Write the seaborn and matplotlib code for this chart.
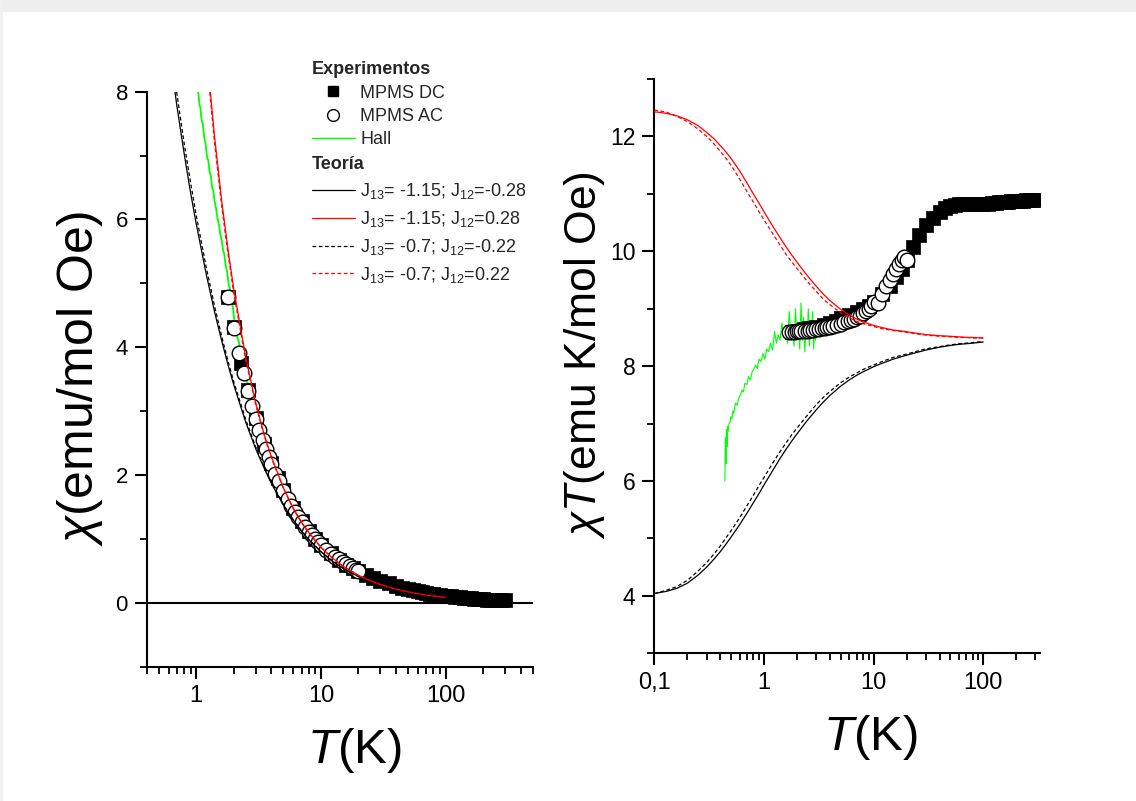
import numpy as np
import pandas as pd
import matplotlib
matplotlib.use("Agg")
import matplotlib.pyplot as plt
from matplotlib.lines import Line2D
from matplotlib.patches import Rectangle
from matplotlib.ticker import LogLocator, NullFormatter, FixedLocator
import seaborn as sns

# ---------------- data: right panel (chi*T vs T) ----------------
theory_T = [0.1, 0.13, 0.16, 0.2, 0.25, 0.3, 0.35, 0.4, 0.45, 0.5, 0.6, 0.7, 0.8, 0.9,
            1.0, 1.2, 1.4, 1.6, 1.8, 2.0, 2.5, 3.0, 3.5, 4.0, 5.0, 6.0, 7.0, 8.0, 10,
            12, 15, 20, 25, 30, 40, 50, 60, 70, 80, 100]
chiT_red_solid = [12.43, 12.40, 12.36, 12.29, 12.19, 12.07, 11.96, 11.84, 11.73, 11.62,
                  11.40, 11.19, 11.00, 10.84, 10.69, 10.44, 10.24, 10.07, 9.93, 9.81,
                  9.57, 9.39, 9.25, 9.14, 8.99, 8.89, 8.82, 8.77, 8.71, 8.67, 8.63,
                  8.60, 8.57, 8.55, 8.53, 8.52, 8.51, 8.50, 8.50, 8.49]
chiT_red_dash = [12.46, 12.42, 12.35, 12.26, 12.13, 12.00, 11.87, 11.74, 11.62, 11.50,
                 11.26, 11.04, 10.86, 10.69, 10.55, 10.31, 10.11, 9.94, 9.81, 9.70,
                 9.47, 9.30, 9.16, 9.07, 8.93, 8.84, 8.78, 8.74, 8.69, 8.65, 8.62,
                 8.59, 8.56, 8.54, 8.52, 8.51, 8.50, 8.50, 8.49, 8.49]
chiT_black_solid = [4.04, 4.08, 4.13, 4.22, 4.36, 4.50, 4.64, 4.77, 4.90, 5.02, 5.24,
                    5.44, 5.62, 5.78, 5.93, 6.18, 6.39, 6.56, 6.70, 6.82, 7.06, 7.24,
                    7.38, 7.49, 7.65, 7.76, 7.84, 7.90, 7.99, 8.05, 8.12, 8.19, 8.24,
                    8.28, 8.33, 8.36, 8.38, 8.39, 8.40, 8.42]
chiT_black_dash = [4.04, 4.10, 4.16, 4.27, 4.43, 4.58, 4.73, 4.87, 5.01, 5.13, 5.36,
                   5.57, 5.75, 5.92, 6.06, 6.31, 6.51, 6.67, 6.81, 6.92, 7.15, 7.33,
                   7.46, 7.56, 7.71, 7.81, 7.88, 7.94, 8.02, 8.08, 8.15, 8.21, 8.26,
                   8.30, 8.34, 8.37, 8.39, 8.40, 8.41, 8.43]

dc_T = [1.8, 2.0, 2.3, 2.6, 3.0, 3.5, 4.0, 4.5, 5, 6, 7, 8, 9, 10, 12, 14, 16, 18, 20,
        23, 26, 30, 35, 40, 45, 50, 55, 60, 65, 70, 75, 80, 90, 100, 110, 120, 130,
        140, 150, 160, 170, 180, 190, 200, 215, 230, 245, 260, 280, 300]
dc_chiT = [8.60, 8.62, 8.64, 8.66, 8.68, 8.71, 8.75, 8.79, 8.83, 8.89, 8.94, 8.99, 9.05,
           9.12, 9.26, 9.40, 9.55, 9.70, 9.85, 10.07, 10.28, 10.45, 10.58, 10.68, 10.75,
           10.79, 10.81, 10.82, 10.82, 10.82, 10.82, 10.82, 10.82, 10.83, 10.83, 10.84,
           10.84, 10.85, 10.85, 10.86, 10.86, 10.87, 10.87, 10.88, 10.88, 10.88, 10.89,
           10.89, 10.89, 10.90]

ac_T = [1.7, 1.8, 1.9, 2.0, 2.1, 2.2, 2.35, 2.5, 2.65, 2.8, 3.0, 3.2, 3.4, 3.6, 3.8, 4.0,
        4.3, 4.6, 5.0, 5.4, 5.8, 6.2, 6.6, 7.0, 7.5, 8.0, 8.5, 9.0, 9.5, 10, 11, 12, 13,
        14, 15, 16, 17, 18, 19, 20]
ac_chiT = [8.60, 8.60, 8.60, 8.61, 8.61, 8.61, 8.62, 8.62, 8.63, 8.63, 8.64, 8.65, 8.66,
           8.67, 8.68, 8.69, 8.70, 8.72, 8.74, 8.76, 8.78, 8.80, 8.82, 8.85, 8.88, 8.92,
           8.96, 9.00, 9.05, 9.12, 9.10, 9.25, 9.40, 9.50, 9.60, 9.70, 9.78, 9.85, 9.90,
           9.85]

hall_T = [0.440, 0.445, 0.450, 0.455, 0.460, 0.465, 0.47, 0.48, 0.49, 0.50, 0.51, 0.52,
          0.53, 0.55, 0.57, 0.59, 0.61, 0.63, 0.65, 0.67, 0.70, 0.72, 0.75, 0.78, 0.81,
          0.84, 0.87, 0.90, 0.94, 0.98, 1.02, 1.06, 1.10, 1.15, 1.20, 1.25, 1.30, 1.35,
          1.40, 1.46, 1.52, 1.58, 1.64, 1.70, 1.76, 1.82, 1.88, 1.94, 2.00, 2.06, 2.12,
          2.18, 2.24, 2.30, 2.36, 2.42, 2.48, 2.54, 2.60, 2.66, 2.72, 2.78, 2.84, 2.90,
          2.96, 3.00]
hall_chiT = [6.0, 6.75, 6.3, 6.9, 6.6, 6.95, 6.85, 7.0, 7.02, 7.12, 7.08, 7.22, 7.18,
             7.36, 7.32, 7.45, 7.5, 7.58, 7.55, 7.7, 7.68, 7.82, 7.76, 7.9, 7.95, 8.02,
             7.96, 8.12, 8.08, 8.22, 8.12, 8.3, 8.25, 8.4, 8.28, 8.6, 8.4, 8.55, 8.45,
             8.75, 8.5, 8.62, 8.4, 8.95, 8.55, 8.7, 8.35, 9.0, 8.5, 8.75, 8.3, 9.1, 8.45,
             8.85, 8.25, 8.7, 8.55, 9.0, 8.35, 8.8, 8.5, 8.95, 8.3, 8.65, 8.45, 8.75]

# ---------------- data: left panel (chi vs T) ----------------
theory_T_left = [0.5, 0.6, 0.7, 0.8, 0.9, 1.0, 1.2, 1.4, 1.6, 1.8, 2.0, 2.5, 3, 3.5, 4,
                 5, 6, 7, 8, 10, 12, 15, 20, 25, 30, 40, 50, 60, 70, 80, 100]
chi_red_solid = [23.24, 19.0, 15.99, 13.75, 12.04, 10.69, 8.70, 7.31, 6.29, 5.52, 4.91,
                 3.83, 3.13, 2.64, 2.29, 1.80, 1.48, 1.26, 1.10, 0.871, 0.723, 0.575,
                 0.43, 0.343, 0.285, 0.213, 0.17, 0.142, 0.121, 0.106, 0.0849]
chi_red_dash = [23.0, 18.77, 15.77, 13.58, 11.88, 10.55, 8.59, 7.22, 6.21, 5.45, 4.85,
                3.79, 3.10, 2.62, 2.27, 1.79, 1.47, 1.25, 1.09, 0.869, 0.721, 0.575,
                0.43, 0.342, 0.285, 0.213, 0.17, 0.142, 0.121, 0.106, 0.0849]
chi_black_solid = [10.04, 8.73, 7.77, 7.03, 6.42, 5.93, 5.15, 4.56, 4.10, 3.72, 3.41,
                   2.82, 2.41, 2.11, 1.87, 1.53, 1.29, 1.12, 0.988, 0.799, 0.671, 0.541,
                   0.41, 0.33, 0.276, 0.208, 0.167, 0.14, 0.12, 0.105, 0.084]
chi_black_dash = [10.26, 8.93, 7.96, 7.19, 6.58, 6.06, 5.26, 4.65, 4.17, 3.78, 3.46,
                  2.86, 2.44, 2.13, 1.89, 1.54, 1.30, 1.126, 0.993, 0.802, 0.673, 0.543,
                  0.41, 0.33, 0.277, 0.209, 0.167, 0.14, 0.12, 0.105, 0.0843]

dc_chi = [4.78, 4.31, 3.76, 3.33, 2.89, 2.49, 2.19, 1.95, 1.77, 1.48, 1.28, 1.12, 1.006,
          0.912, 0.772, 0.671, 0.597, 0.539, 0.493, 0.438, 0.395, 0.348, 0.302, 0.267,
          0.239, 0.216, 0.197, 0.180, 0.166, 0.155, 0.144, 0.135, 0.120, 0.108, 0.0985,
          0.0903, 0.0834, 0.0775, 0.0723, 0.0679, 0.0639, 0.0604, 0.0572, 0.0544,
          0.0506, 0.0473, 0.0444, 0.0419, 0.0389, 0.0363]

ac_T_left = [1.8, 2.0, 2.2, 2.4, 2.6, 2.8, 3.0, 3.2, 3.4, 3.6, 3.8, 4.0, 4.3, 4.6, 5.0,
             5.4, 5.8, 6.2, 6.6, 7.0, 7.5, 8.0, 8.5, 9.0, 9.5, 10, 11, 12, 13, 14, 15,
             16, 17, 18, 19, 20]
ac_chi = [4.78, 4.30, 3.91, 3.59, 3.32, 3.08, 2.88, 2.70, 2.55, 2.41, 2.28, 2.17, 2.02,
          1.90, 1.75, 1.62, 1.51, 1.42, 1.34, 1.26, 1.18, 1.115, 1.054, 1.0, 0.953,
          0.912, 0.827, 0.771, 0.723, 0.679, 0.64, 0.606, 0.575, 0.547, 0.521, 0.493]

hall_T_left = [1.00, 1.02, 1.04, 1.06, 1.08, 1.10, 1.13, 1.16, 1.19, 1.22, 1.25, 1.28,
               1.31, 1.34, 1.37, 1.40, 1.44, 1.48, 1.52, 1.56, 1.60, 1.64, 1.68, 1.72,
               1.77, 1.82, 1.87, 1.92, 1.97, 2.02, 2.08, 2.14, 2.20, 2.26, 2.32, 2.38,
               2.45, 2.52, 2.59, 2.66, 2.73, 2.80]
hall_chi = [8.25, 8.02, 7.98, 7.80, 7.75, 7.58, 7.48, 7.28, 7.18, 6.98, 6.92, 6.74, 6.68,
            6.50, 6.45, 6.30, 6.18, 6.02, 5.92, 5.76, 5.68, 5.52, 5.45, 5.28, 5.18, 4.98,
            4.90, 4.70, 4.62, 4.42, 4.34, 4.15, 4.08, 3.90, 3.84, 3.70, 3.62, 3.48, 3.44,
            3.30, 3.26, 3.14]

exp_labels = ["MPMS DC", "MPMS AC", "Hall"]
theory_labels = ["J$_{13}$= -1.15; J$_{12}$=-0.28",
                 "J$_{13}$= -1.15; J$_{12}$=0.28",
                 "J$_{13}$= -0.7; J$_{12}$=-0.22",
                 "J$_{13}$= -0.7; J$_{12}$=0.22"]

# ---------------- style ----------------
sns.set_theme(style="ticks")
plt.rcParams["font.family"] = ["Liberation Sans", "DejaVu Sans"]
plt.rcParams["mathtext.fontset"] = "custom"
plt.rcParams["mathtext.rm"] = "Liberation Sans"
plt.rcParams["mathtext.it"] = "Liberation Sans:italic"
plt.rcParams["mathtext.bf"] = "Liberation Sans:bold"

RED = "#ff0000"
GREEN = "#00ff00"
DASH = (0, (3, 2))

fig = plt.figure(figsize=(11.36, 8.01), dpi=100, facecolor="white")
fig.patches.append(Rectangle((0, 1 - 12 / 801), 1, 12 / 801, transform=fig.transFigure,
                             facecolor="#eeeeee", edgecolor="none", zorder=0))
fig.patches.append(Rectangle((0, 0), 3 / 1136, 1, transform=fig.transFigure,
                             facecolor="#f0f0f0", edgecolor="none", zorder=0))

axL = fig.add_axes([0.1291, 0.1677, 0.3398, 0.7178])
axR = fig.add_axes([0.576, 0.1844, 0.3395, 0.717])
for ax in (axL, axR):
    ax.set_xscale("log")
    ax.set_facecolor("none")


def draw_line(ax, x, y, color, ls="-", lw=0.9, z=5):
    sns.lineplot(x=x, y=y, ax=ax, color=color, linestyle=ls, linewidth=lw,
                 estimator=None, sort=False, zorder=z, legend=False)


def draw_panel(ax, tT, curves, hx, hy, hlw, dcx, dcy, acx, acy):
    draw_line(ax, hx, hy, GREEN, lw=hlw, z=1)
    sns.scatterplot(x=dcx, y=dcy, ax=ax, marker="s", s=9.5 ** 2, color="black",
                    edgecolor="black", linewidth=0.5, zorder=2, legend=False)
    sns.scatterplot(x=acx, y=acy, ax=ax, marker="o", s=10.5 ** 2, color="white",
                    edgecolor="black", linewidth=1.0, zorder=3, legend=False)
    (bs, rs, bd, rd) = curves
    draw_line(ax, tT, bs, "black")
    draw_line(ax, tT, rs, RED)
    draw_line(ax, tT, bd, "black", ls=DASH)
    draw_line(ax, tT, rd, RED, ls=DASH)


# left panel
axL.axhline(0, color="black", lw=1.5, zorder=1.5)
draw_panel(axL, theory_T_left,
           (chi_black_solid, chi_red_solid, chi_black_dash, chi_red_dash),
           hall_T_left, hall_chi, 1.3, dc_T, dc_chi, ac_T_left, ac_chi)
# right panel
draw_panel(axR, theory_T,
           (chiT_black_solid, chiT_red_solid, chiT_black_dash, chiT_red_dash),
           hall_T, hall_chiT, 0.8, dc_T, dc_chiT, ac_T, ac_chiT)

# axes formatting
axL.set_xlim(0.4, 500)
axL.set_ylim(-1, 8)
axL.set_xticks([1, 10, 100], ["1", "10", "100"])
axL.set_yticks([0, 2, 4, 6, 8], ["0", "2", "4", "6", "8"])
axL.yaxis.set_minor_locator(FixedLocator([-1, 1, 3, 5, 7]))

axR.set_xlim(0.1, 330)
axR.set_ylim(3, 13)
axR.set_xticks([0.1, 1, 10, 100], ["0,1", "1", "10", "100"])
axR.set_yticks([4, 6, 8, 10, 12], ["4", "6", "8", "10", "12"])
axR.yaxis.set_minor_locator(FixedLocator([3, 5, 7, 9, 11, 13]))

for ax, xs, ys in ((axL, 17, 16), (axR, 17, 16.5)):
    ax.xaxis.set_minor_locator(LogLocator(base=10, subs=np.arange(2, 10), numticks=50))
    ax.xaxis.set_minor_formatter(NullFormatter())
    sns.despine(ax=ax)
    for sp in ("left", "bottom"):
        ax.spines[sp].set_linewidth(1.5)
        ax.spines[sp].set_color("black")
    ax.tick_params(which="major", direction="out", length=8.5, width=1.5, color="black")
    ax.tick_params(which="minor", direction="out", length=5, width=1.3, color="black")
    ax.tick_params(axis="x", which="major", labelsize=xs, pad=5, labelcolor="black")
    ax.tick_params(axis="y", which="major", labelsize=ys, pad=5, labelcolor="black")
    ax.set_xlabel("$T$(K)", fontsize=35.5, color="black", va="center")

axL.set_ylabel("$\\chi$(emu/mol Oe)", fontsize=36, color="black", va="center")
axR.set_ylabel("$\\chi T$(emu K/mol Oe)", fontsize=32, color="black", va="center")
axL.xaxis.set_label_coords(0.537, -0.145)
axR.xaxis.set_label_coords(0.559, -0.147)
axL.yaxis.set_label_coords(-0.173, 0.502)
axR.yaxis.set_label_coords(-0.182, 0.519)

# legends
h_dc = Line2D([], [], marker="s", color="black", linestyle="none", markersize=7.5)
h_ac = Line2D([], [], marker="o", markerfacecolor="white", markeredgecolor="black",
              markeredgewidth=1.0, linestyle="none", markersize=8.5)
h_hall = Line2D([], [], color=GREEN, lw=1.0)
common = dict(loc="upper left", bbox_transform=fig.transFigure, frameon=False,
              fontsize=13, alignment="left", handlelength=2.4, handletextpad=0.3,
              borderpad=0, borderaxespad=0,
              title_fontproperties={"weight": "bold", "size": 13})
leg1 = axL.legend([h_dc, h_ac, h_hall], exp_labels, title="Experimentos",
                  bbox_to_anchor=(311.7 / 1136, 1 - 61 / 801), labelspacing=0.36, **common)
axL.add_artist(leg1)
h_th = [Line2D([], [], color="black", lw=0.9),
        Line2D([], [], color=RED, lw=0.9),
        Line2D([], [], color="black", lw=0.9, linestyle=DASH),
        Line2D([], [], color=RED, lw=0.9, linestyle=DASH)]
leg2 = axL.legend(h_th, theory_labels, title="Teoría",
                  bbox_to_anchor=(311.7 / 1136, 1 - 156 / 801), labelspacing=0.44, **common)

fig.savefig("out.png", dpi=100, facecolor="white")
